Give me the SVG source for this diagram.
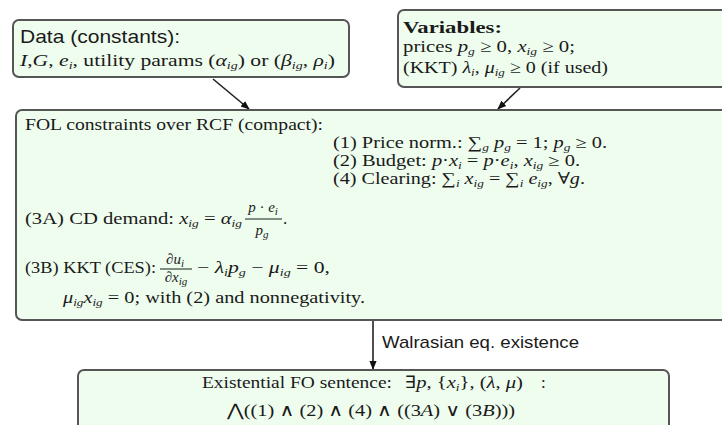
<svg xmlns="http://www.w3.org/2000/svg" width="722" height="425" viewBox="0 0 722 425">
<style>
.box{fill:#effdef;stroke:#555;stroke-width:2}
.t{font-family:"Liberation Serif","DejaVu Serif",serif;font-size:17px;fill:#1a1a1a}
.s{font-family:"Liberation Sans",Arial,sans-serif;fill:#1a1a1a}
.i{font-style:italic}
.sub{font-size:11px;baseline-shift:-3px;font-style:italic}
.f{font-size:15px}
.l{font-size:16px}
.l .sub{font-size:10.5px;baseline-shift:-2.5px}
.edge{stroke:#222;stroke-width:1.6;fill:none}
</style>
<defs>
<marker id="ah" viewBox="0 0 10 10" refX="9" refY="5" markerWidth="9" markerHeight="9" markerUnits="userSpaceOnUse" orient="auto"><path d="M0,1 L10,5 L0,9 z" fill="#111"/></marker>
</defs>
<rect width="722" height="425" fill="#fff"/>
<g id="connectors">
<line class="edge" x1="213" y1="79" x2="249" y2="109" marker-end="url(#ah)"/>
<line class="edge" x1="520" y1="88" x2="498" y2="109" marker-end="url(#ah)"/>
<line class="edge" x1="373" y1="320" x2="373" y2="369" marker-end="url(#ah)"/>
<text class="s" x="382" y="348" font-size="17" textLength="197" lengthAdjust="spacingAndGlyphs">Walrasian eq. existence</text>
</g>
<g id="data">
<rect class="box" x="13" y="20" width="336" height="57" rx="6"/>
<text class="s" x="20" y="43" font-size="19" textLength="160" lengthAdjust="spacingAndGlyphs">Data (constants):</text>
<text class="t" x="20" y="66" textLength="315" lengthAdjust="spacingAndGlyphs"><tspan class="i">I</tspan>,<tspan class="i">G</tspan>, <tspan class="i">e</tspan><tspan class="sub">i</tspan>, utility params (<tspan class="i">α</tspan><tspan class="sub">ig</tspan>) or (<tspan class="i">β</tspan><tspan class="sub">ig</tspan>, <tspan class="i">ρ</tspan><tspan class="sub">i</tspan>)</text>
</g>
<g id="variables">
<rect class="box" x="398" y="10" width="340" height="77" rx="6"/>
<text class="t" x="403" y="33" font-size="20" font-weight="bold" textLength="99" lengthAdjust="spacingAndGlyphs">Variables:</text>
<text class="t" x="403" y="52" textLength="172" lengthAdjust="spacingAndGlyphs">prices <tspan class="i">p</tspan><tspan class="sub">g</tspan> ≥ 0, <tspan class="i">x</tspan><tspan class="sub">ig</tspan> ≥ 0;</text>
<text class="t" x="403" y="73" textLength="205" lengthAdjust="spacingAndGlyphs">(KKT) <tspan class="i">λ</tspan><tspan class="sub">i</tspan>, <tspan class="i">μ</tspan><tspan class="sub">ig</tspan> ≥ 0 (if used)</text>
</g>
<g id="constraints">
<rect class="box" x="16" y="110" width="722" height="210" rx="6"/>
<text class="t" x="25" y="130" textLength="298" lengthAdjust="spacingAndGlyphs">FOL constraints over RCF (compact):</text>
<text class="t l" x="333" y="148" textLength="274" lengthAdjust="spacingAndGlyphs">(1) Price norm.: ∑<tspan class="sub">g</tspan> <tspan class="i">p</tspan><tspan class="sub">g</tspan> = 1; <tspan class="i">p</tspan><tspan class="sub">g</tspan> ≥ 0.</text>
<text class="t l" x="333" y="166" textLength="247" lengthAdjust="spacingAndGlyphs">(2) Budget: <tspan class="i">p</tspan>·<tspan class="i">x</tspan><tspan class="sub">i</tspan> = <tspan class="i">p</tspan>·<tspan class="i">e</tspan><tspan class="sub">i</tspan>, <tspan class="i">x</tspan><tspan class="sub">ig</tspan> ≥ 0.</text>
<text class="t l" x="333" y="184" textLength="252" lengthAdjust="spacingAndGlyphs">(4) Clearing: ∑<tspan class="sub">i</tspan> <tspan class="i">x</tspan><tspan class="sub">ig</tspan> = ∑<tspan class="sub">i</tspan> <tspan class="i">e</tspan><tspan class="sub">ig</tspan>, ∀<tspan class="i">g</tspan>.</text>
<text class="t" x="25" y="224" textLength="217" lengthAdjust="spacingAndGlyphs">(3A) CD demand: <tspan class="i">x</tspan><tspan class="sub">ig</tspan> = <tspan class="i">α</tspan><tspan class="sub">ig</tspan></text>
<text class="t f" x="263" y="212" text-anchor="middle"><tspan class="i">p</tspan> · <tspan class="i">e</tspan><tspan class="sub">i</tspan></text>
<line x1="245" y1="219" x2="282" y2="219" stroke="#1a1a1a" stroke-width="1"/>
<text class="t f" x="262" y="235" text-anchor="middle"><tspan class="i">p</tspan><tspan class="sub">g</tspan></text>
<text class="t" x="283" y="224">.</text>
<text class="t" x="25" y="273" textLength="131" lengthAdjust="spacingAndGlyphs">(3B) KKT (CES):</text>
<text class="t f" x="175" y="264" text-anchor="middle">∂<tspan class="i">u</tspan><tspan class="sub">i</tspan></text>
<line x1="160" y1="269" x2="192" y2="269" stroke="#1a1a1a" stroke-width="1"/>
<text class="t f" x="176" y="282" text-anchor="middle">∂<tspan class="i">x</tspan><tspan class="sub">ig</tspan></text>
<text class="t" x="197" y="273" textLength="133" lengthAdjust="spacingAndGlyphs">− <tspan class="i">λ</tspan><tspan class="sub">i</tspan><tspan class="i">p</tspan><tspan class="sub">g</tspan> − <tspan class="i">μ</tspan><tspan class="sub">ig</tspan> = 0,</text>
<text class="t" x="63" y="303" textLength="302" lengthAdjust="spacingAndGlyphs"><tspan class="i">μ</tspan><tspan class="sub">ig</tspan><tspan class="i">x</tspan><tspan class="sub">ig</tspan> = 0; with (2) and nonnegativity.</text>
</g>
<g id="sentence">
<rect class="box" x="78" y="370" width="591" height="70" rx="6"/>
<text class="t" x="202" y="388" textLength="190" lengthAdjust="spacingAndGlyphs">Existential FO sentence:</text>
<text class="t" x="405" y="388" textLength="118" lengthAdjust="spacingAndGlyphs">∃<tspan class="i">p</tspan>, {<tspan class="i">x</tspan><tspan class="sub">i</tspan>}, (<tspan class="i">λ</tspan>, <tspan class="i">μ</tspan>)</text>
<text class="t" x="541" y="388">:</text>
<text class="t" x="227" y="416" textLength="288" lengthAdjust="spacingAndGlyphs">⋀((1) ∧ (2) ∧ (4) ∧ ((3<tspan class="i">A</tspan>) ∨ (3<tspan class="i">B</tspan>)))</text>
</g>
</svg>
